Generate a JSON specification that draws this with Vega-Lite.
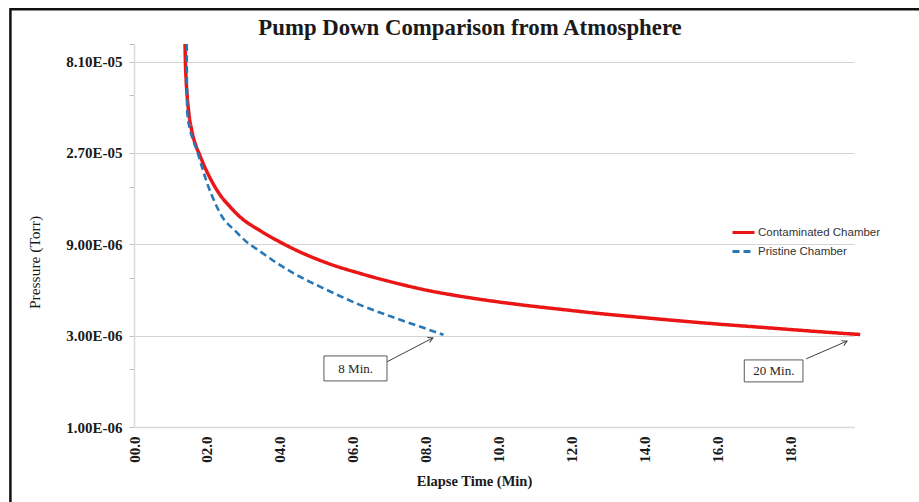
{
  "$schema": "https://vega.github.io/schema/vega-lite/v6.json",
  "width": 720,
  "height": 383,
  "autosize": {"type": "none"},
  "padding": {"left": 134, "top": 44, "right": 65, "bottom": 75},
  "background": "white",
  "config": {
    "view": {"stroke": null},
    "font": "Liberation Serif"
  },
  "title": {
    "text": "Pump Down Comparison from Atmosphere",
    "font": "Liberation Serif",
    "fontSize": 22.8,
    "fontWeight": "bold",
    "color": "#1a1a1a",
    "anchor": "middle",
    "dx": -24,
    "dy": 38,
    "offset": 6
  },
  "datasets": {
    "curves": [
      {"series": "Contaminated Chamber", "time": 1.40, "pressure": 1.0e-4},
      {"series": "Contaminated Chamber", "time": 1.41, "pressure": 8.08e-5},
      {"series": "Contaminated Chamber", "time": 1.43, "pressure": 6.51e-5},
      {"series": "Contaminated Chamber", "time": 1.46, "pressure": 5.30e-5},
      {"series": "Contaminated Chamber", "time": 1.51, "pressure": 4.27e-5},
      {"series": "Contaminated Chamber", "time": 1.58, "pressure": 3.57e-5},
      {"series": "Contaminated Chamber", "time": 1.67, "pressure": 3.05e-5},
      {"series": "Contaminated Chamber", "time": 1.80, "pressure": 2.64e-5},
      {"series": "Contaminated Chamber", "time": 1.95, "pressure": 2.26e-5},
      {"series": "Contaminated Chamber", "time": 2.14, "pressure": 1.91e-5},
      {"series": "Contaminated Chamber", "time": 2.36, "pressure": 1.63e-5},
      {"series": "Contaminated Chamber", "time": 2.61, "pressure": 1.43e-5},
      {"series": "Contaminated Chamber", "time": 2.91, "pressure": 1.25e-5},
      {"series": "Contaminated Chamber", "time": 3.46, "pressure": 1.06e-5},
      {"series": "Contaminated Chamber", "time": 4.00, "pressure": 9.26e-6},
      {"series": "Contaminated Chamber", "time": 4.55, "pressure": 8.21e-6},
      {"series": "Contaminated Chamber", "time": 5.29, "pressure": 7.19e-6},
      {"series": "Contaminated Chamber", "time": 6.20, "pressure": 6.34e-6},
      {"series": "Contaminated Chamber", "time": 7.11, "pressure": 5.69e-6},
      {"series": "Contaminated Chamber", "time": 8.03, "pressure": 5.18e-6},
      {"series": "Contaminated Chamber", "time": 8.94, "pressure": 4.82e-6},
      {"series": "Contaminated Chamber", "time": 9.85, "pressure": 4.54e-6},
      {"series": "Contaminated Chamber", "time": 10.77, "pressure": 4.31e-6},
      {"series": "Contaminated Chamber", "time": 11.69, "pressure": 4.12e-6},
      {"series": "Contaminated Chamber", "time": 12.78, "pressure": 3.91e-6},
      {"series": "Contaminated Chamber", "time": 13.88, "pressure": 3.74e-6},
      {"series": "Contaminated Chamber", "time": 14.98, "pressure": 3.58e-6},
      {"series": "Contaminated Chamber", "time": 16.08, "pressure": 3.44e-6},
      {"series": "Contaminated Chamber", "time": 17.17, "pressure": 3.32e-6},
      {"series": "Contaminated Chamber", "time": 18.27, "pressure": 3.20e-6},
      {"series": "Contaminated Chamber", "time": 19.37, "pressure": 3.09e-6},
      {"series": "Contaminated Chamber", "time": 19.92, "pressure": 3.04e-6},
      {"series": "Pristine Chamber", "time": 1.446, "pressure": 1.0e-4},
      {"series": "Pristine Chamber", "time": 1.451, "pressure": 6.51e-5},
      {"series": "Pristine Chamber", "time": 1.462, "pressure": 4.37e-5},
      {"series": "Pristine Chamber", "time": 1.536, "pressure": 3.57e-5},
      {"series": "Pristine Chamber", "time": 1.62, "pressure": 3.16e-5},
      {"series": "Pristine Chamber", "time": 1.72, "pressure": 2.80e-5},
      {"series": "Pristine Chamber", "time": 1.87, "pressure": 2.26e-5},
      {"series": "Pristine Chamber", "time": 2.04, "pressure": 1.80e-5},
      {"series": "Pristine Chamber", "time": 2.21, "pressure": 1.50e-5},
      {"series": "Pristine Chamber", "time": 2.41, "pressure": 1.26e-5},
      {"series": "Pristine Chamber", "time": 2.77, "pressure": 1.06e-5},
      {"series": "Pristine Chamber", "time": 3.09, "pressure": 9.26e-6},
      {"series": "Pristine Chamber", "time": 3.46, "pressure": 8.26e-6},
      {"series": "Pristine Chamber", "time": 3.91, "pressure": 7.19e-6},
      {"series": "Pristine Chamber", "time": 4.37, "pressure": 6.36e-6},
      {"series": "Pristine Chamber", "time": 5.29, "pressure": 5.20e-6},
      {"series": "Pristine Chamber", "time": 6.20, "pressure": 4.34e-6},
      {"series": "Pristine Chamber", "time": 7.11, "pressure": 3.74e-6},
      {"series": "Pristine Chamber", "time": 8.03, "pressure": 3.25e-6},
      {"series": "Pristine Chamber", "time": 8.49, "pressure": 3.03e-6}
    ],
    "notes": [
      {"label": "8 Min.", "bx1": 5.21, "bx2": 6.94, "by1": 1.74e-6, "by2": 2.35e-6, "tx": 6.08, "ty": 2.02e-6, "ax1": 6.94, "ay1": 2.19e-6, "ax2": 8.20, "ay2": 2.92e-6},
      {"label": "20 Min.", "bx1": 16.74, "bx2": 18.35, "by1": 1.72e-6, "by2": 2.24e-6, "tx": 17.55, "ty": 1.96e-6, "ax1": 18.44, "ay1": 2.27e-6, "ax2": 19.56, "ay2": 2.81e-6}
    ]
  },
  "layer": [
    {
      "data": {"name": "curves"},
      "transform": [{"filter": "datum.series == 'Contaminated Chamber'"}],
      "mark": {"type": "line", "strokeWidth": 3.5, "interpolate": "monotone"},
      "encoding": {
        "x": {
          "field": "time", "type": "quantitative",
          "scale": {"domain": [0, 19.75], "nice": false, "zero": false},
          "axis": {
            "title": "Elapse Time (Min)",
            "values": [0, 2, 4, 6, 8, 10, 12, 14, 16, 18],
            "format": "04.1f",
            "labelAngle": -90,
            "labelFont": "Liberation Serif",
            "labelFontSize": 15,
            "labelFontWeight": "bold",
            "labelColor": "#1a1a1a",
            "labelPadding": 9,
            "ticks": false,
            "grid": false,
            "domainColor": "#d9d9d9",
            "domainWidth": 1.5,
            "titleFont": "Liberation Serif",
            "titleFontSize": 14.5,
            "titleFontWeight": "bold",
            "titleColor": "#1a1a1a",
            "titleX": 340,
            "titleY": 54,
            "titleAlign": "center",
            "titleBaseline": "middle",
            "labelFlush": false
          }
        },
        "y": {
          "field": "pressure", "type": "quantitative",
          "scale": {"type": "log", "domain": [1e-6, 1e-4], "nice": false},
          "axis": {
            "title": "Pressure (Torr)",
            "values": [1e-6, 2e-6, 3e-6, 6e-6, 9e-6, 1.8e-5, 2.7e-5, 5.4e-5, 8.1e-5, 1e-4],
            "labelExpr": "abs(log(datum.value/1e-6)/log(3) - round(log(datum.value/1e-6)/log(3))) < 0.01 ? format(datum.value / pow(10, floor(log(datum.value)/LN10 + 1e-9)), '.2f') + 'E-0' + toString(-floor(log(datum.value)/LN10 + 1e-9)) : ''",
            "labelFont": "Liberation Serif",
            "labelFontSize": 15,
            "labelFontWeight": "bold",
            "labelColor": "#1a1a1a",
            "labelPadding": 7,
            "labelFlush": false,
            "labelOverlap": false,
            "tickSize": 5,
            "tickColor": "#bfbfbf",
            "domainColor": "#d9d9d9",
            "domainWidth": 1.5,
            "gridColor": "#d4d4d4",
            "gridWidth": 1.2,
            "gridOpacity": {"condition": {"test": "abs(log(datum.value/1e-6)/log(3) - round(log(datum.value/1e-6)/log(3))) < 0.01", "value": 1}, "value": 0},
            "titleFont": "Liberation Serif",
            "titleFontSize": 15.5,
            "titleFontWeight": "normal",
            "titleColor": "#1a1a1a",
            "titleX": -100,
            "titleY": 218,
            "titleAlign": "center",
            "titleBaseline": "middle",
            "titleAngle": -90
          }
        },
        "color": {
          "field": "series", "type": "nominal",
          "scale": {"domain": ["Contaminated Chamber", "Pristine Chamber"], "range": ["#ea1515", "#2878b8"]},
          "legend": {
            "title": null,
            "orient": "none",
            "legendX": 597,
            "legendY": 176,
            "padding": 0,
            "symbolType": "stroke",
            "symbolSize": 484,
            "symbolStrokeWidth": 3,
            "labelFont": "Liberation Sans",
            "labelFontSize": 11.5,
            "labelColor": "#333333",
            "labelOffset": 2,
            "rowPadding": 0
          }
        },
        "strokeDash": {
          "field": "series", "type": "nominal",
          "scale": {"domain": ["Contaminated Chamber", "Pristine Chamber"], "range": [[1, 0], [7, 4]]},
          "legend": {
            "title": null,
            "orient": "none",
            "legendX": 597,
            "legendY": 176,
            "padding": 0,
            "symbolType": "stroke",
            "symbolSize": 484,
            "symbolStrokeWidth": 3,
            "labelFont": "Liberation Sans",
            "labelFontSize": 11.5,
            "labelColor": "#333333",
            "labelOffset": 2,
            "rowPadding": 0
          }
        }
      }
    },
    {
      "data": {"name": "curves"},
      "transform": [{"filter": "datum.series == 'Pristine Chamber'"}],
      "mark": {"type": "line", "strokeWidth": 2.6, "interpolate": "monotone"},
      "encoding": {
        "x": {"field": "time", "type": "quantitative", "scale": {"domain": [0, 19.75], "nice": false, "zero": false}},
        "y": {"field": "pressure", "type": "quantitative", "scale": {"type": "log", "domain": [1e-6, 1e-4], "nice": false}},
        "color": {"field": "series", "type": "nominal", "scale": {"domain": ["Contaminated Chamber", "Pristine Chamber"], "range": ["#ea1515", "#2878b8"]}},
        "strokeDash": {"field": "series", "type": "nominal", "scale": {"domain": ["Contaminated Chamber", "Pristine Chamber"], "range": [[1, 0], [7, 4]]}}
      }
    },
    {
      "data": {"name": "notes"},
      "mark": {"type": "rule", "color": "#404040", "strokeWidth": 1},
      "encoding": {
        "x": {"field": "ax1", "type": "quantitative", "scale": {"domain": [0, 19.75], "nice": false, "zero": false}},
        "x2": {"field": "ax2"},
        "y": {"field": "ay1", "type": "quantitative", "scale": {"type": "log", "domain": [1e-6, 1e-4], "nice": false}},
        "y2": {"field": "ay2"}
      }
    },
    {
      "data": {"name": "notes"},
      "mark": {"type": "point", "shape": "M -0.55 1 L 0 0 L 0.55 1", "filled": false, "stroke": "#404040", "strokeWidth": 1, "size": 100, "angle": 65, "opacity": 1},
      "encoding": {
        "x": {"field": "ax2", "type": "quantitative", "scale": {"domain": [0, 19.75], "nice": false, "zero": false}},
        "y": {"field": "ay2", "type": "quantitative", "scale": {"type": "log", "domain": [1e-6, 1e-4], "nice": false}}
      }
    },
    {
      "data": {"name": "notes"},
      "mark": {"type": "rect", "fill": "white", "stroke": "#595959", "strokeWidth": 1},
      "encoding": {
        "x": {"field": "bx1", "type": "quantitative", "scale": {"domain": [0, 19.75], "nice": false, "zero": false}},
        "x2": {"field": "bx2"},
        "y": {"field": "by1", "type": "quantitative", "scale": {"type": "log", "domain": [1e-6, 1e-4], "nice": false}},
        "y2": {"field": "by2"}
      }
    },
    {
      "data": {"name": "notes"},
      "mark": {"type": "text", "font": "Liberation Serif", "fontSize": 13, "color": "#262626", "align": "center", "baseline": "middle"},
      "encoding": {
        "x": {"field": "tx", "type": "quantitative", "scale": {"domain": [0, 19.75], "nice": false, "zero": false}},
        "y": {"field": "ty", "type": "quantitative", "scale": {"type": "log", "domain": [1e-6, 1e-4], "nice": false}},
        "text": {"field": "label"}
      }
    },
    {
      "data": {"values": [{}]},
      "mark": {"type": "rect", "filled": false, "stroke": "#111111", "strokeWidth": 2.5},
      "encoding": {
        "x": {"datum": -3.39, "type": "quantitative", "scale": {"domain": [0, 19.75], "nice": false, "zero": false}},
        "x2": {"datum": 25.5},
        "y": {"datum": 1.52e-4, "type": "quantitative", "scale": {"type": "log", "domain": [1e-6, 1e-4], "nice": false}},
        "y2": {"datum": 3e-7}
      }
    }
  ]
}
